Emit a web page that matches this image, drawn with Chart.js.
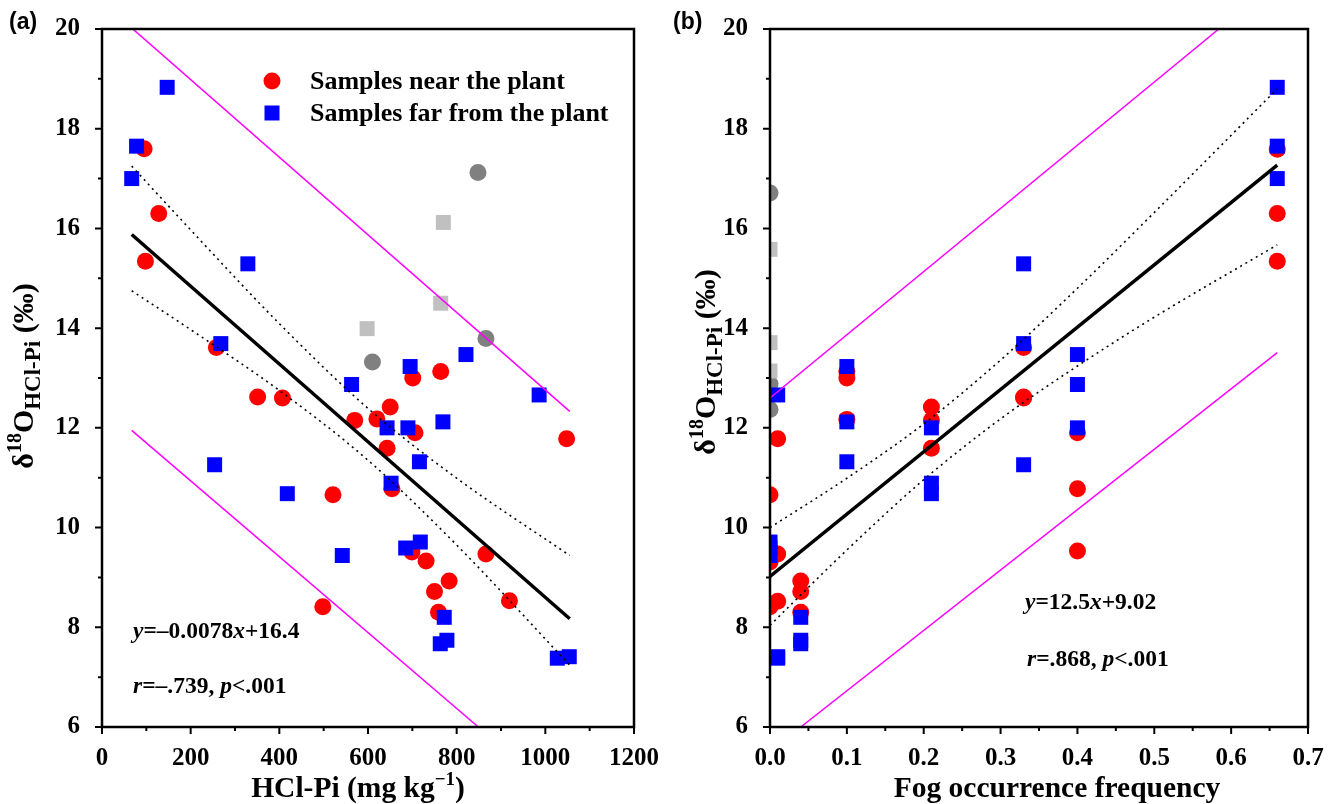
<!DOCTYPE html>
<html>
<head>
<meta charset="utf-8">
<title>δ18O of HCl-Pi</title>
<script src="https://cdn.jsdelivr.net/npm/chart.js@4.4.0/dist/chart.umd.min.js"></script>
<style>
  html, body { margin: 0; padding: 0; background: #fff; }
  #wrap { position: relative; width: 1336px; height: 804px; overflow: hidden; }
  canvas { position: absolute; top: 0; }
  #chartA { left: 0; }
  #chartB { left: 668px; }
</style>
</head>
<body>
<div id="wrap">
  <canvas id="chartA" width="668" height="804"></canvas>
  <canvas id="chartB" width="668" height="804"></canvas>
</div>
<script>
// ---- panel (a): δ18O vs HCl-Pi content ----
const nearHclPi = [95, 128, 98, 258, 351, 407, 650, 701, 764, 570, 620, 706, 643, 654, 521, 1048, 699, 731, 866, 783, 750, 759, 919, 498];
const nearD18Oa = [17.6, 16.3, 15.34, 13.61, 12.62, 12.6, 12.42, 13.0, 13.13, 12.15, 12.18, 11.9, 11.59, 10.78, 10.66, 11.78, 9.51, 9.33, 9.47, 8.93, 8.72, 8.3, 8.53, 8.41];
const farHclPi = [147, 78, 67, 329, 268, 563, 695, 821, 986, 769, 643, 690, 716, 254, 652, 418, 718, 685, 542, 772, 778, 763, 1027, 1054];
const farD18Oa = [18.83, 17.65, 17.0, 15.29, 13.69, 12.87, 13.23, 13.47, 12.66, 12.12, 12.0, 12.0, 11.32, 11.26, 10.89, 10.68, 9.71, 9.59, 9.44, 8.2, 7.74, 7.67, 7.38, 7.41];
const excludedNearHclPi = [848, 866, 610];
const excludedNearD18Oa = [17.12, 13.79, 13.32];
const excludedFarHclPi = [770, 764, 598];
const excludedFarD18Oa = [16.12, 14.5, 13.99];

const fitA = { slope: -0.0078, intercept: 16.4, from: 67, to: 1055 };
const confAX = [67, 200, 400, 600, 800, 1055];
const confAUpper = [17.25, 15.97, 14.09, 12.39, 10.99, 9.44];
const confALower = [14.75, 13.97, 12.75, 11.35, 9.65, 7.24];
const predAUpperX = [67, 1055];
const predAUpperY = [20.02, 12.33];
const predALowerX = [67, 849];
const predALowerY = [11.95, 6.0];

// ---- panel (b): δ18O vs fog occurrence frequency ----
const nearFog = [0.66, 0.66, 0.66, 0.33, 0.33, 0.33, 0.1, 0.1, 0.1, 0.21, 0.21, 0.21, 0.4, 0.4, 0.4, 0.01, 0.01, 0.01, 0, 0, 0, 0.04, 0.04, 0.04];
const nearD18Ob = [17.59, 16.3, 15.34, 13.61, 12.62, 12.6, 13.0, 13.13, 12.17, 12.42, 12.15, 11.59, 11.9, 10.78, 9.53, 11.78, 9.47, 8.52, 10.66, 9.31, 8.41, 8.93, 8.72, 8.3];
const farFog = [0.66, 0.66, 0.66, 0.33, 0.33, 0.33, 0.4, 0.4, 0.4, 0.1, 0.1, 0.1, 0.01, 0.01, 0.01, 0.21, 0.21, 0.21, 0, 0, 0, 0.04, 0.04, 0.04];
const farD18Ob = [18.83, 17.65, 17.0, 15.29, 13.69, 11.26, 13.47, 12.87, 12.0, 13.23, 12.12, 11.32, 12.66, 7.41, 7.38, 12.0, 10.89, 10.68, 9.71, 9.59, 9.44, 8.2, 7.74, 7.67];
const excludedNearFog = [0, 0, 0];
const excludedNearD18Ob = [16.71, 12.88, 12.37];
const excludedFarFog = [0, 0, 0];
const excludedFarD18Ob = [15.58, 13.71, 13.14];

const fitB = { slope: 12.5, intercept: 9.02, from: 0, to: 0.66 };
const confBX = [0, 0.1, 0.2, 0.3, 0.4, 0.5, 0.66];
const confBUpper = [10.0, 10.99, 12.08, 13.36, 14.8, 16.32, 18.8];
const confBLower = [8.04, 9.55, 10.96, 12.18, 13.24, 14.22, 15.67];
const predBUpperX = [0, 0.584];
const predBUpperY = [12.6, 20.0];
const predBLowerX = [0.04, 0.66];
const predBLowerY = [6.0, 13.51];

// ---- axis ticks ----
const yTickValues = [6, 8, 10, 12, 14, 16, 18, 20];
const yMinorValues = [7, 9, 11, 13, 15, 17, 19];
const xTickValuesA = [0, 200, 400, 600, 800, 1000, 1200];
const xMinorValuesA = [100, 300, 500, 700, 900, 1100];
const xTickValuesB = [0, 0.1, 0.2, 0.3, 0.4, 0.5, 0.6, 0.7];
const xMinorValuesB = [0.05, 0.15, 0.25, 0.35, 0.45, 0.55, 0.65];

const SERIF = '"Liberation Serif", "Times New Roman", serif';
const bold = px => `bold ${px}px ${SERIF}`;
const boldItalic = px => `italic bold ${px}px ${SERIF}`;

const toPoints = (xs, ys) => xs.map((x, i) => ({ x, y: ys[i] }));
const fitPoints = f => [f.from, f.to].map(x => ({ x, y: f.slope * x + f.intercept }));

// draws a row of text pieces with their own fonts / baseline shifts
function drawRuns(ctx, runs, x, y, align) {
  let total = 0;
  runs.forEach(r => { ctx.font = r.font; total += ctx.measureText(r.text).width; });
  let cx = align === 'center' ? x - total / 2 : x;
  runs.forEach(r => {
    ctx.font = r.font;
    ctx.fillText(r.text, cx, y + (r.dy || 0));
    cx += ctx.measureText(r.text).width;
  });
}

const yTitleRuns = [
  { text: 'δ', font: bold(30) },
  { text: '18', font: bold(20), dy: -12 },
  { text: 'O', font: bold(30) },
  { text: 'HCl-Pi', font: bold(23), dy: 7 },
  { text: ' (‰)', font: bold(30) }
];

const panelDecor = {
  id: 'panelDecor',
  afterDatasetsDraw(chart, args, o) {
    const ctx = chart.ctx;
    const a = chart.chartArea;
    const xs = chart.scales.x, ys = chart.scales.y;
    ctx.save();
    ctx.strokeStyle = '#000';
    ctx.lineWidth = 2;
    ctx.beginPath();
    o.yMajor.forEach(v => { const p = ys.getPixelForValue(v); ctx.moveTo(a.left - 7, p); ctx.lineTo(a.left, p); });
    o.yMinor.forEach(v => { const p = ys.getPixelForValue(v); ctx.moveTo(a.left - 4, p); ctx.lineTo(a.left, p); });
    o.xMajor.forEach(v => { const p = xs.getPixelForValue(v); ctx.moveTo(p, a.bottom); ctx.lineTo(p, a.bottom + 7); });
    o.xMinor.forEach(v => { const p = xs.getPixelForValue(v); ctx.moveTo(p, a.bottom); ctx.lineTo(p, a.bottom + 4); });
    ctx.stroke();
    ctx.lineWidth = 2.5;
    ctx.strokeRect(a.left, a.top, a.right - a.left, a.bottom - a.top);
    ctx.restore();
  },
  afterDraw(chart, args, o) {
    const ctx = chart.ctx;
    ctx.save();
    ctx.fillStyle = '#000';

    // panel letter
    ctx.font = 'bold 23px "Liberation Sans", Arial, sans-serif';
    ctx.textBaseline = 'middle';
    ctx.fillText(o.letter, o.letterX, 23);

    // axis titles
    ctx.textBaseline = 'alphabetic';
    drawRuns(ctx, o.xTitle, o.xTitleX, 797, 'center');
    ctx.save();
    ctx.translate(o.yTitleX, o.yTitleY);
    ctx.rotate(-Math.PI / 2);
    drawRuns(ctx, yTitleRuns, 0, 0, 'center');
    ctx.restore();

    // regression statistics
    ctx.textBaseline = 'middle';
    drawRuns(ctx, o.eq, o.eqX, o.eqY, 'left');
    drawRuns(ctx, o.stat, o.statX, o.statY, 'left');

    // legend
    if (o.legend) {
      ctx.font = bold(26);
      ctx.fillStyle = '#FF0000';
      ctx.beginPath();
      ctx.arc(272, 81, 8.5, 0, Math.PI * 2);
      ctx.fill();
      ctx.fillStyle = '#0000FF';
      ctx.fillRect(272 - 7.5, 113 - 7.5, 15, 15);
      ctx.fillStyle = '#000';
      ctx.fillText('Samples near the plant', 310, 82);
      ctx.fillText('Samples far from the plant', 310, 114);
    }
    ctx.restore();
  }
};

function lineSet(data, color, width, dash, curved) {
  return {
    data, showLine: true, pointRadius: 0, borderColor: color, borderWidth: width,
    borderDash: dash || [], fill: false,
    tension: curved ? 0.4 : 0, cubicInterpolationMode: curved ? 'monotone' : 'default'
  };
}

function pointSet(data, color, style) {
  return {
    data, showLine: false, pointStyle: style,
    pointRadius: style === 'rect' ? 10.6 : 8.5,
    pointBackgroundColor: color, pointBorderWidth: 0, backgroundColor: color, borderColor: color
  };
}

function makePanel(id, p) {
  new Chart(document.getElementById(id), {
    type: 'scatter',
    data: {
      datasets: [
        lineSet(fitPoints(p.fit), '#000', 3.5),
        lineSet(toPoints(p.confX, p.confUpper), '#000', 1.6, [2, 4], true),
        lineSet(toPoints(p.confX, p.confLower), '#000', 1.6, [2, 4], true),
        lineSet(p.predUpper, '#FF00FF', 1.5),
        lineSet(p.predLower, '#FF00FF', 1.5),
        pointSet(p.far, '#0000FF', 'rect'),
        pointSet(p.near, '#FF0000', 'circle'),
        pointSet(p.exFar, '#C0C0C0', 'rect'),
        pointSet(p.exNear, '#808080', 'circle')
      ]
    },
    options: {
      responsive: false,
      animation: false,
      layout: { padding: { top: 21, right: p.padRight, left: 0, bottom: 0 } },
      plugins: {
        legend: { display: false },
        tooltip: { enabled: false },
        panelDecor: p.decor
      },
      scales: {
        x: {
          type: 'linear', min: p.xMin, max: p.xMax,
          afterBuildTicks: s => { s.ticks = p.xTicks.map(v => ({ value: v })); },
          afterFit: s => { s.height = 77; },
          grid: { display: false },
          border: { display: false },
          ticks: {
            autoSkip: false, maxRotation: 0, padding: 9, color: '#000',
            font: { family: SERIF, weight: 'bold', size: 25 },
            callback: p.xFormat
          }
        },
        y: {
          type: 'linear', min: 6, max: 20,
          afterBuildTicks: s => { s.ticks = yTickValues.map(v => ({ value: v })); },
          afterFit: s => { s.width = 102; },
          grid: { display: false },
          border: { display: false },
          ticks: {
            autoSkip: false, padding: 14, color: '#000',
            font: { family: SERIF, weight: 'bold', size: 25 }
          }
        }
      }
    },
    plugins: [panelDecor]
  });
}

makePanel('chartA', {
  fit: fitA,
  confX: confAX, confUpper: confAUpper, confLower: confALower,
  predUpper: toPoints(predAUpperX, predAUpperY),
  predLower: toPoints(predALowerX, predALowerY),
  far: toPoints(farHclPi, farD18Oa),
  near: toPoints(nearHclPi, nearD18Oa),
  exFar: toPoints(excludedFarHclPi, excludedFarD18Oa),
  exNear: toPoints(excludedNearHclPi, excludedNearD18Oa),
  xMin: 0, xMax: 1200, xTicks: xTickValuesA, xFormat: v => String(v),
  padRight: 27,
  decor: {
    letter: '(a)', letterX: 9,
    yMajor: yTickValues, yMinor: yMinorValues, xMajor: xTickValuesA, xMinor: xMinorValuesA,
    xTitleX: 358,
    xTitle: [
      { text: 'HCl-Pi (mg kg', font: bold(29.5) },
      { text: '−1', font: bold(19), dy: -12 },
      { text: ')', font: bold(29.5) }
    ],
    yTitleX: 33, yTitleY: 376,
    eqX: 133, eqY: 632,
    eq: [
      { text: 'y', font: boldItalic(23.5) },
      { text: '=–0.0078', font: bold(23.5) },
      { text: 'x', font: boldItalic(23.5) },
      { text: '+16.4', font: bold(23.5) }
    ],
    statX: 133, statY: 687,
    stat: [
      { text: 'r', font: boldItalic(23.5) },
      { text: '=–.739, ', font: bold(23.5) },
      { text: 'p', font: boldItalic(23.5) },
      { text: '<.001', font: bold(23.5) }
    ],
    legend: true
  }
});

makePanel('chartB', {
  fit: fitB,
  confX: confBX, confUpper: confBUpper, confLower: confBLower,
  predUpper: toPoints(predBUpperX, predBUpperY),
  predLower: toPoints(predBLowerX, predBLowerY),
  far: toPoints(farFog, farD18Ob),
  near: toPoints(nearFog, nearD18Ob),
  exFar: toPoints(excludedFarFog, excludedFarD18Ob),
  exNear: toPoints(excludedNearFog, excludedNearD18Ob),
  xMin: 0, xMax: 0.7, xTicks: xTickValuesB, xFormat: v => v.toFixed(1),
  padRight: 28,
  decor: {
    letter: '(b)', letterX: 5,
    yMajor: yTickValues, yMinor: yMinorValues, xMajor: xTickValuesB, xMinor: xMinorValuesB,
    xTitleX: 389,
    xTitle: [{ text: 'Fog occurrence frequency', font: bold(29.5) }],
    yTitleX: 47, yTitleY: 362,
    eqX: 357, eqY: 603,
    eq: [
      { text: 'y', font: boldItalic(23.5) },
      { text: '=12.5', font: bold(23.5) },
      { text: 'x', font: boldItalic(23.5) },
      { text: '+9.02', font: bold(23.5) }
    ],
    statX: 359, statY: 660,
    stat: [
      { text: 'r', font: boldItalic(23.5) },
      { text: '=.868, ', font: bold(23.5) },
      { text: 'p', font: boldItalic(23.5) },
      { text: '<.001', font: bold(23.5) }
    ],
    legend: false
  }
});
</script>
</body>
</html>
